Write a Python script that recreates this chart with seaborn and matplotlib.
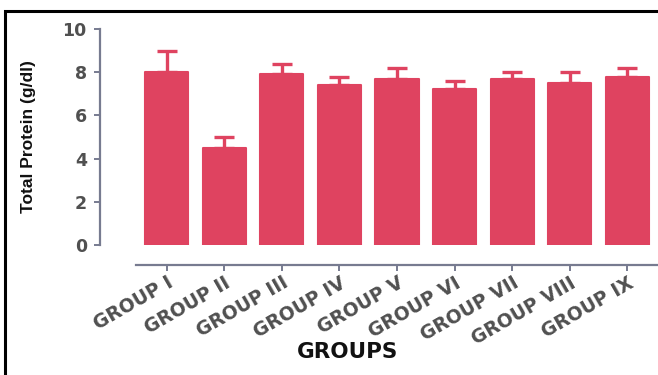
import numpy as np
import pandas as pd
import matplotlib
matplotlib.use("Agg")
import matplotlib.pyplot as plt
from matplotlib.patches import Rectangle
from matplotlib import font_manager
import seaborn as sns

# Serum total protein per treatment group (mean and upper error)
groups = ["GROUP I", "GROUP II", "GROUP III", "GROUP IV", "GROUP V",
          "GROUP VI", "GROUP VII", "GROUP VIII", "GROUP IX"]
mean_protein = [8.0, 4.5, 7.9, 7.4, 7.7, 7.2, 7.7, 7.5, 7.8]
error_protein = [1.0, 0.5, 0.5, 0.4, 0.5, 0.4, 0.3, 0.5, 0.4]
y_ticks = [0, 2, 4, 6, 8, 10]

bar_color = "#DF4360"
axis_color = "#777b90"
tick_text = "#505050"

df = pd.DataFrame({"group": groups, "protein": mean_protein, "err": error_protein})

sns.set_style("white")
plt.rcParams["font.family"] = ["DejaVu Sans"]

# pick a condensed face for the axis title when one is available
installed = {f.name for f in font_manager.fontManager.ttflist}
label_family = "DejaVu Sans"
for cand in ["Liberation Sans Narrow", "Liberation Sans", "Arimo"]:
    if cand in installed:
        label_family = cand
        break
label_size = {"Liberation Sans Narrow": 15.5, "Liberation Sans": 12.5, "Arimo": 12.5}.get(label_family, 11.5)

DPI = 100
px = 72 / DPI  # points per pixel

fig = plt.figure(figsize=(6.58, 3.75), dpi=DPI)
fig.patch.set_facecolor("white")
ax = fig.add_axes([136 / 658, 130 / 375, 522 / 658, 216 / 375])

sns.barplot(data=df, x="group", y="protein", color=bar_color, saturation=1,
            width=0.75, errorbar=None, ax=ax, zorder=3,
            edgecolor=bar_color, linewidth=1.5)
for p in ax.patches:
    p.set_joinstyle("round")

xpos = np.arange(len(groups))
ax.errorbar(xpos, df["protein"], yerr=[np.zeros(len(groups)), df["err"]],
            fmt="none", ecolor=bar_color, elinewidth=2.4, capsize=7.5,
            capthick=2.4, zorder=2)

ax.set_xlim(-0.53, 8.53)
ax.set_ylim(0, 10)
ax.set_yticks(y_ticks)
ax.set_yticklabels([str(v) for v in y_ticks])

for side in ["top", "right"]:
    ax.spines[side].set_visible(False)
ax.spines["left"].set_position(("outward", 36 * px))
ax.spines["left"].set_bounds(0, 10)
ax.spines["bottom"].set_position(("outward", 20 * px))
for side in ["left", "bottom"]:
    ax.spines[side].set_color(axis_color)
    ax.spines[side].set_linewidth(1.6)

ax.tick_params(axis="y", direction="out", length=4.5, width=1.4, color=axis_color,
               labelsize=12.5, labelcolor=tick_text, pad=5, left=True)
ax.tick_params(axis="x", direction="out", length=4, width=1.4, color=axis_color,
               labelsize=13.5, labelcolor=tick_text, pad=2, bottom=True)
for lbl in ax.get_yticklabels():
    lbl.set_fontweight("bold")
for lbl in ax.get_xticklabels():
    lbl.set_fontweight("bold")
    lbl.set_rotation(30)
    lbl.set_ha("right")
    lbl.set_rotation_mode("anchor")

ax.set_xlabel("GROUPS", fontsize=15.5, fontweight="bold", color="#111111")
ax.xaxis.label.set_va("center")
ax.xaxis.set_label_coords(0.406, -0.495)

ax.set_ylabel("Total Protein (g/dl)", fontsize=label_size, fontweight="bold",
              color="#111111", family=label_family)
ax.yaxis.label.set_va("center")
ax.yaxis.set_label_coords(-0.205, 0.5)

# black frame around the panel (open on the right and bottom)
frame = Rectangle((5 / 658, -0.1), 1.2, 1 - 11 / 375 + 0.1,
                  transform=fig.transFigure, fill=False,
                  edgecolor="black", linewidth=2.2, clip_on=False)
fig.add_artist(frame)

fig.savefig("out.png", dpi=DPI, facecolor="white")
